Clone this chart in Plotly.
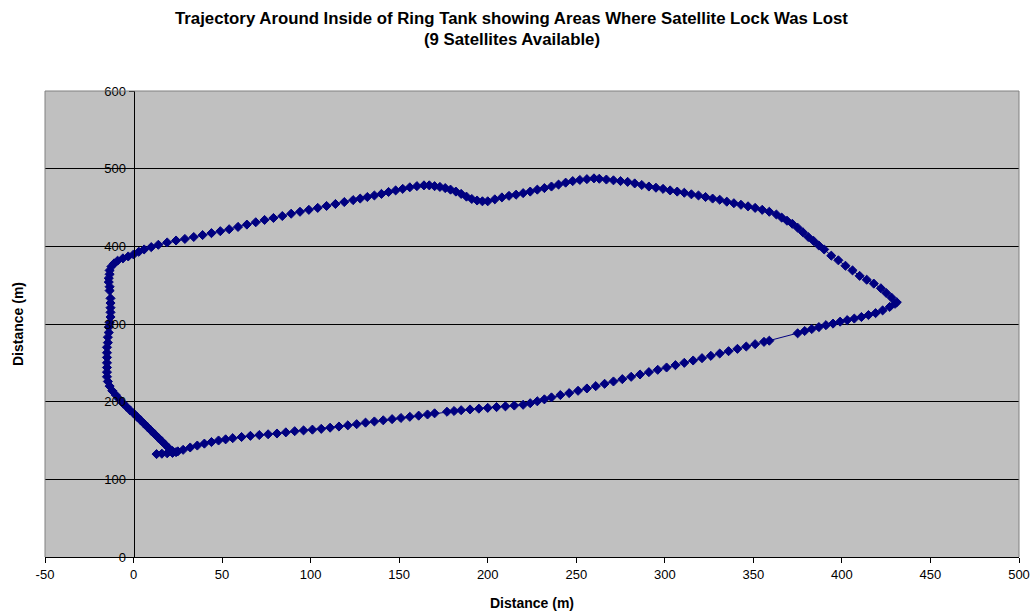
import plotly.graph_objects as go

# Bottom leg (start near the south-west corner, heading east)
bottom_a_x = [13, 16, 19, 22, 25, 28, 32, 36, 40, 44, 48, 52, 56, 61, 66, 71, 76, 81, 86, 91,
              96, 101, 106, 111, 116, 121, 126, 131, 136, 141, 146, 151, 156, 161, 166, 170]
bottom_a_y = [132.5, 133, 133.5, 134, 136, 138, 141, 143.5, 146, 148, 150, 151.5, 153, 154.5, 156, 157, 158, 159, 160.5, 162,
              163, 164, 165, 166.5, 168, 169.5, 171, 173, 174.5, 176, 177.5, 179, 180.5, 182, 183.5, 185]
bottom_b_x = [177, 181, 185, 190, 195, 200, 205, 210, 215, 220, 224, 228, 232, 236, 241, 246, 251, 256, 261, 266,
              271, 276, 281, 286, 291, 296, 301, 306, 311, 316, 321, 326, 331, 336, 341, 346, 351, 356, 359]
bottom_b_y = [187, 188, 189, 190, 191, 192, 193, 194, 195, 196, 198, 200.5, 203, 205.5, 208.5, 211, 214, 217, 220, 223,
              226, 229, 232, 235, 238, 241, 244, 247, 250, 253, 256, 259, 262, 265, 268, 271, 274, 277, 278.5]
bottom_c_x = [375, 379, 383, 387, 391, 395, 399, 403, 407, 411, 415, 419, 423, 427, 430]
bottom_c_y = [288, 291, 293.5, 296, 298.5, 300.5, 303, 305, 307, 309, 311.5, 314, 317.5, 322, 326]

# Eastern tip and north-east leg
right_x = [431, 428, 425, 422, 418, 414, 410, 406, 402, 398, 394, 390, 387, 384, 381, 378, 375, 372, 369, 366,
           363, 359, 355, 351, 347, 343, 339, 335, 331, 327, 323, 319, 315, 311, 307, 303, 299, 295, 291, 287,
           283, 279, 275, 271, 267, 263, 260]
right_y = [328, 334, 340, 346, 352, 357, 362, 369, 375, 382, 388, 396, 401, 407, 412, 418, 424, 429, 433, 437,
           441, 444.5, 447, 449.5, 451.5, 453.5, 455.5, 457.5, 460, 461.5, 463.5, 465.5, 467, 469, 470.5, 472, 474, 475.5, 477, 479,
           481, 483, 484, 485, 486, 487, 487.5]

# Northern leg heading west
top_x = [256, 252, 248, 244, 240, 236, 232, 228, 224, 220, 216, 212, 208, 204, 200, 197, 194, 191, 188, 185,
         182, 179, 176, 173, 170, 167, 164, 160, 156, 152, 148, 144, 140, 136, 132, 128, 124, 119, 114, 109,
         104, 99, 94, 89, 84, 79, 74, 69, 64, 59, 54, 49, 44, 39, 34, 29, 24, 19, 14, 10,
         6, 3, 0, -3, -6, -9, -11, -12.5, -13.5]
top_y = [486.5, 485.5, 484, 482, 479.5, 477, 475, 473, 470.5, 468.5, 466.5, 465, 463, 460.5, 458, 458, 459, 461, 464, 467.5,
         470.5, 473, 475, 476.5, 477.5, 478.5, 478.5, 477.5, 476, 474, 472, 470, 467.5, 465.5, 463.5, 461.5, 459.5, 457, 454.5, 452,
         449.5, 447, 444.5, 442, 439, 436.5, 434, 431, 428, 425, 422, 419.5, 417, 414.5, 412, 409.5, 407.5, 405, 402, 399,
         396, 393, 389.5, 387, 384.5, 381.5, 378, 374, 369]

# Western leg heading south, then back to the start
left_x = [-13.5, -14, -14, -13.5, -13.5, -13, -13, -13, -13, -13, -13.5, -14, -14, -14.5, -14.5, -15, -15, -15, -15, -15,
          -15, -15, -14.5, -13.5, -12, -10, -8, -6, -4, -2, 0, 2, 4, 6, 8, 10, 12, 14, 16, 18,
          20, 22, 24]
left_y = [364, 359, 354, 348, 343, 333, 327, 321, 315, 309, 302, 296, 289, 283, 276, 270, 263, 257, 250, 244,
          238, 232, 226, 220, 214, 208.5, 203, 198, 193.5, 189, 185, 180.5, 176, 171.5, 167, 162.5, 158, 153.5, 149, 144.5,
          140, 136.5, 135]

east_m = bottom_a_x + bottom_b_x + bottom_c_x + right_x + top_x + left_x
north_m = bottom_a_y + bottom_b_y + bottom_c_y + right_y + top_y + left_y

title_lines = ["Trajectory Around Inside of Ring Tank showing Areas Where Satellite Lock Was Lost",
               "(9 Satellites Available)"]
axis_title = "Distance (m)"
x_ticks = [-50, 0, 50, 100, 150, 200, 250, 300, 350, 400, 450, 500]
y_ticks = [0, 100, 200, 300, 400, 500, 600]

FONT = "Arial, Liberation Sans, sans-serif"
NAVY = "#000080"

fig = go.Figure()
fig.add_trace(go.Scatter(
    x=east_m, y=north_m, mode="lines+markers",
    line=dict(color=NAVY, width=1),
    marker=dict(symbol="diamond", size=7, color=NAVY, line=dict(width=1, color=NAVY)),
    showlegend=False,
))

ML, MR, MT, MB = 45, 15, 91, 55
W, H = 1034, 612
pw = W - ML - MR
ph = H - MT - MB


def px_x(v):
    return (v - ML) / pw


def px_y(v):
    return (H - MB - v) / ph


fig.update_layout(
    width=W, height=H,
    margin=dict(l=ML, r=MR, t=MT, b=MB, pad=0, autoexpand=False),
    paper_bgcolor="white", plot_bgcolor="#C0C0C0",
    font=dict(family=FONT, size=13, color="black"),
    xaxis=dict(range=[-50, 500], tickvals=x_ticks, ticktext=[str(v) for v in x_ticks],
               showgrid=False, zeroline=False, showline=True, linecolor="black", linewidth=1,
               ticks="outside", ticklen=5, tickcolor="black", automargin=False),
    yaxis=dict(range=[0, 600], tickvals=y_ticks, ticktext=[str(v) for v in y_ticks],
               anchor="free", position=50 / 550, automargin=False,
               showgrid=True, gridcolor="black", gridwidth=1, zeroline=False,
               showline=True, linecolor="black", linewidth=1,
               ticks="outside", ticklen=5, tickcolor="black"),
    shapes=[
        dict(type="line", xref="paper", yref="paper", x0=0, x1=0, y0=0, y1=1, line=dict(color="#808080", width=1), layer="above"),
        dict(type="line", xref="paper", yref="paper", x0=1, x1=1, y0=0, y1=1, line=dict(color="#808080", width=1), layer="above"),
        dict(type="line", xref="paper", yref="paper", x0=0, x1=1, y0=1, y1=1, line=dict(color="#808080", width=1), layer="above"),
    ],
    annotations=[
        dict(text="<b>" + title_lines[0] + "</b>", xref="paper", yref="paper",
             x=px_x(511.5), y=px_y(18), xanchor="center", yanchor="middle",
             showarrow=False, font=dict(size=16.8)),
        dict(text="<b>" + title_lines[1] + "</b>", xref="paper", yref="paper",
             x=px_x(512), y=px_y(40), xanchor="center", yanchor="middle",
             showarrow=False, font=dict(size=16.8)),
        dict(text="<b>" + axis_title + "</b>", xref="paper", yref="paper",
             x=px_x(532), y=px_y(603), xanchor="center", yanchor="middle",
             showarrow=False, font=dict(size=14)),
        dict(text="<b>" + axis_title + "</b>", xref="paper", yref="paper", textangle=-90,
             x=px_x(18), y=px_y(324), xanchor="center", yanchor="middle",
             showarrow=False, font=dict(size=14)),
    ],
)

fig.write_html("out.html")
